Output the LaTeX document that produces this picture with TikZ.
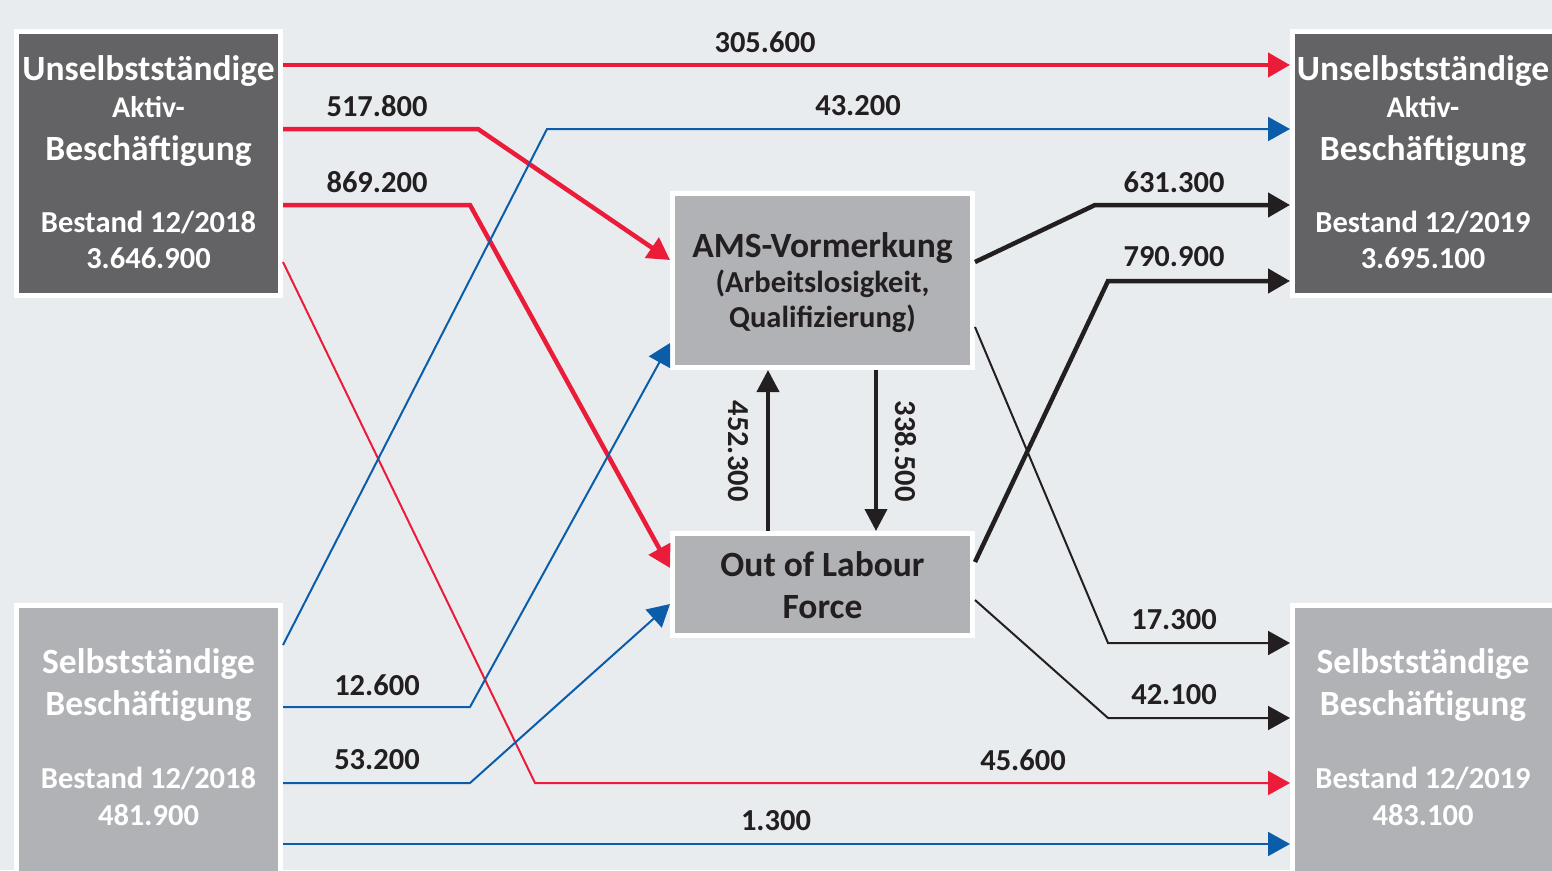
\documentclass[tikz,border=0pt]{standalone}
\usepackage{fontspec}
\setmainfont{Carlito}
\usetikzlibrary{arrows.meta,calc}
\definecolor{bg}{HTML}{E9ECEE}
\definecolor{darkbox}{HTML}{636365}
\definecolor{lightbox}{HTML}{B1B2B5}
\definecolor{myred}{HTML}{EB1C3A}
\definecolor{myblue}{HTML}{0B5DAA}
\definecolor{myblack}{HTML}{231F20}
\begin{document}
\begin{tikzpicture}[x=1pt,y=-1pt,
  box/.style={rectangle, draw=white, line width=5pt, inner sep=0pt, outer sep=2.5pt},
  dbox/.style={box, fill=darkbox},
  lbox/.style={box, fill=lightbox},
  wt/.style={text=white, font=\bfseries, inner sep=0pt, anchor=base},
  bt/.style={text=myblack, font=\bfseries, inner sep=0pt, anchor=base},
  big/.style={font=\bfseries\fontsize{35.5}{38}\selectfont},
  mid/.style={font=\bfseries\fontsize{30.5}{33}\selectfont},
  small/.style={font=\bfseries\fontsize{30}{32}\selectfont},
  lbl/.style={text=myblack, font=\bfseries\fontsize{30.5}{33}\selectfont, inner sep=0pt},
  tip/.style={-{Triangle[length=22pt,width=24pt]}},
  redthick/.style={tip, draw=myred, line width=4.5pt},
  redthin/.style={tip, draw=myred, line width=2pt},
  bluethin/.style={tip, draw=myblue, line width=2pt},
  blackthick/.style={tip, draw=myblack, line width=4.5pt},
  blackthin/.style={tip, draw=myblack, line width=2pt},
  vert/.style={-{Triangle[length=22pt,width=22pt]}, draw=myblack, line width=4pt}
]
\useasboundingbox (0,0) rectangle (1552,870);
\clip (0,0) rectangle (1552,870);
\fill[bg] (0,0) rectangle (1552,870);

% boxes
\node[dbox, minimum width=264pt, minimum height=264pt] (tl) at (148.5,163.5) {};
\node[dbox, minimum width=280pt, minimum height=264pt] (tr) at (1432.5,163.5) {};
\node[lbox, minimum width=264pt, minimum height=290pt] (bl) at (148.5,750.5) {};
\node[lbox, minimum width=280pt, minimum height=290pt] (br) at (1432.5,750.5) {};
\node[lbox, minimum width=300pt, minimum height=174pt] (ams) at (822.5,280.5) {};
\node[lbox, minimum width=300pt, minimum height=102pt] (olf) at (822.5,584.5) {};

% box texts
\node[wt, big] (tl1) at (148.5,80) {Unselbstständige};
\node[wt, small] (tl2) at (148.5,117) {Aktiv-};
\node[wt, big] (tl3) at (148.5,160) {Beschäftigung};
\node[wt, mid] (tl4) at (148.5,232) {Bestand 12/2018};
\node[wt, mid] (tl5) at (148.5,268) {3.646.900};

\node[wt, big] (tr1) at (1423,80) {Unselbstständige};
\node[wt, small] (tr2) at (1423,117) {Aktiv-};
\node[wt, big] (tr3) at (1423,160) {Beschäftigung};
\node[wt, mid] (tr4) at (1423,232) {Bestand 12/2019};
\node[wt, mid] (tr5) at (1423,268) {3.695.100};

\node[wt, big] (bl1) at (148.5,673) {Selbstständige};
\node[wt, big] (bl2) at (148.5,715) {Beschäftigung};
\node[wt, mid] (bl3) at (148.5,788) {Bestand 12/2018};
\node[wt, mid] (bl4) at (148.5,825) {481.900};

\node[wt, big] (br1) at (1423,673) {Selbstständige};
\node[wt, big] (br2) at (1423,715) {Beschäftigung};
\node[wt, mid] (br3) at (1423,788) {Bestand 12/2019};
\node[wt, mid] (br4) at (1423,825) {483.100};

\node[bt, big] (ams1) at (822.5,257) {AMS-Vormerkung};
\node[bt, mid] (ams2) at (822.5,292) {(Arbeitslosigkeit,};
\node[bt, mid] (ams3) at (822.5,327) {Qualifizierung)};
\node[bt, big] (olf1) at (822.5,576) {Out of Labour};
\node[bt, big] (olf2) at (822.5,618) {Force};

% red flows
\draw[redthick] ($(tl.north east)+(0,36)$) -- ($(tr.north west)+(0,36)$);
\draw[redthick] ($(tl.north east)+(0,100)$) -- ++(195,0) -- ($(ams.north west)+(0,69)$);
\draw[redthick] ($(tl.north east)+(0,176)$) -- ++(187,0) -- ($(olf.north west)+(0,37)$);
\draw[redthin] ($(tl.north east)+(0,233)$) -- ++(252,521) -- ($(br.north west)+(0,180)$);

% blue flows
\draw[bluethin] ($(bl.north east)+(0,42)$) -- ++(264,-516) -- ($(tr.north west)+(0,100)$);
\draw[bluethin] ($(bl.north east)+(0,104)$) -- ++(187,0) -- ($(ams.north west)+(0,152)$);
\draw[bluethin] ($(bl.north east)+(0,180)$) -- ++(187,0) -- ($(olf.north west)+(0,73)$);
\draw[bluethin] ($(bl.north east)+(0,241)$) -- ($(br.north west)+(0,241)$);

% black flows
\draw[blackthick] ($(ams.north east)+(0,71)$) -- ++(120,-57) -- ($(tr.north west)+(0,176)$);
\draw[blackthick] ($(olf.north east)+(0,31)$) -- ++(133,-281) -- ($(tr.north west)+(0,252)$);
\draw[blackthin] ($(ams.north east)+(0,136)$) -- ++(133,316) -- ($(br.north west)+(0,40)$);
\draw[blackthin] ($(olf.north east)+(0,69)$) -- ++(133,118) -- ($(br.north west)+(0,115)$);

\draw[vert] ($(olf.north west)+(98,0)$) -- ($(ams.south west)+(98,0)$);
\draw[vert] ($(ams.south west)+(206,0)$) -- ($(olf.north west)+(206,0)$);

% labels
\node[lbl] (l1) at (765,42) {305.600};
\node[lbl] (l2) at (377,106) {517.800};
\node[lbl] (l3) at (377,182) {869.200};
\node[lbl] (l4) at (858,106) {43.200};
\node[lbl] (l5) at (1174,182) {631.300};
\node[lbl] (l6) at (1174,257) {790.900};
\node[lbl] (l7) at (1174,620) {17.300};
\node[lbl] (l8) at (1174,695) {42.100};
\node[lbl] (l9) at (1023,760) {45.600};
\node[lbl] (l10) at (377,685) {12.600};
\node[lbl] (l11) at (377,760) {53.200};
\node[lbl] (l12) at (776,821) {1.300};
\node[lbl, rotate=-90] (l13) at (738,451) {452.300};
\node[lbl, rotate=-90] (l14) at (906,451) {338.500};
\end{tikzpicture}
\end{document}
